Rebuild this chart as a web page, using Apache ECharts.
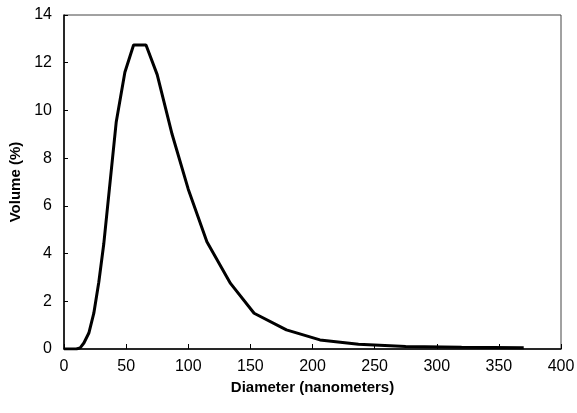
<!DOCTYPE html>
<html><head><meta charset="utf-8">
<script src="https://cdn.jsdelivr.net/npm/echarts@6/dist/echarts.min.js"></script>
<style>html,body{margin:0;padding:0;background:#fff}#c{width:577px;height:413px}</style>
</head><body><div id="c"></div>
<script>
const diameter = [0, 10, 13, 16, 20, 24, 28, 32, 42, 49, 56, 66, 75, 87, 100, 115, 134, 153, 179, 206, 237, 275, 320, 370];
const volume   = [0, 0, 0.05, 0.25, 0.67, 1.5, 2.8, 4.4, 9.5, 11.6, 12.74, 12.74, 11.5, 9.0, 6.7, 4.5, 2.75, 1.5, 0.8, 0.38, 0.2, 0.1, 0.07, 0.05];
const xTitle = 'Diameter (nanometers)';
const yTitle = 'Volume (%)';

const chart = echarts.init(document.getElementById('c'));
const font = 'Liberation Sans, Arial, sans-serif';
chart.setOption({
  animation: false,
  grid: { left: 64, right: 16, top: 15, bottom: 64, show: true, borderColor: '#444', borderWidth: 1, containLabel: false, outerBoundsMode: 'none' },
  xAxis: {
    type: 'value', min: 0, max: 400, interval: 50,
    name: xTitle, nameLocation: 'middle', nameGap: 31,
    nameTextStyle: { fontFamily: font, fontWeight: 'bold', fontSize: 15, color: '#000' },
    axisLine: { lineStyle: { color: '#000', width: 1.5 } },
    axisTick: { inside: true, length: 5, lineStyle: { color: '#000' } },
    axisLabel: { fontFamily: font, fontSize: 16, color: '#000', margin: 10 },
    splitLine: { show: false }
  },
  yAxis: {
    type: 'value', min: 0, max: 14, interval: 2,
    name: yTitle, nameLocation: 'middle', nameGap: 40,
    nameTextStyle: { fontFamily: font, fontWeight: 'bold', fontSize: 15, color: '#000' },
    axisLine: { show: true, lineStyle: { color: '#000', width: 1.5 } },
    axisTick: { show: true, inside: true, length: 4, lineStyle: { color: '#000' } },
    axisLabel: { fontFamily: font, fontSize: 16, color: '#000', margin: 12 },
    splitLine: { show: false }
  },
  series: [{
    type: 'line', showSymbol: false,
    data: diameter.map((d, i) => [d, volume[i]]),
    lineStyle: { color: '#000', width: 3 }
  }]
});
</script></body></html>
